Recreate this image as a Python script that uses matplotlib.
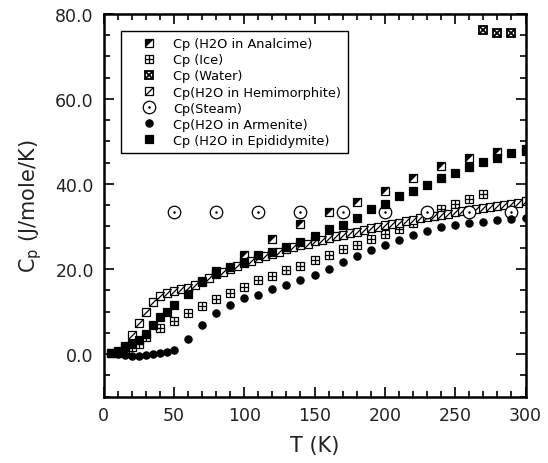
import matplotlib
matplotlib.use('Agg')
import matplotlib.pyplot as plt
from matplotlib.path import Path
from matplotlib.ticker import MultipleLocator, FormatStrFormatter

# Cp of H2O in various minerals
t_analcime = [60, 80, 100, 120, 140, 160, 180, 200, 220, 240, 260, 280, 300]
cp_analcime = [15.4, 19.6, 23.3, 27.1, 30.6, 33.3, 35.8, 38.4, 41.3, 44.2, 46.1, 47.6, 48.3]

t_ice = [10, 15, 20, 25, 30, 40, 50, 60, 70, 80, 90, 100, 110, 120, 130, 140,
         150, 160, 170, 180, 190, 200, 210, 220, 230, 240, 250, 260, 270]
cp_ice = [0.3, 0.8, 1.6, 2.4, 4.0, 6.2, 7.8, 9.6, 11.4, 12.9, 14.4, 15.8, 17.5, 18.4,
          19.8, 20.8, 22.2, 23.2, 24.6, 25.6, 27.0, 28.2, 29.4, 30.8, 32.4, 34.0,
          35.2, 36.5, 37.7]

t_water = [270, 280, 290]
cp_water = [76.2, 75.6, 75.6]

t_hemi = [5, 10, 15, 20, 25, 30, 35, 40, 45, 50, 55, 60, 65, 70, 75, 80, 85, 90, 95,
          100, 105, 110, 115, 120, 125, 130, 135, 140, 145, 150, 155, 160, 165, 170,
          175, 180, 185, 190, 195, 200, 205, 210, 215, 220, 225, 230, 235, 240, 245,
          250, 255, 260, 265, 270, 275, 280, 285, 290, 295, 300]
cp_hemi = [0.2, 0.5, 1.8, 4.5, 7.3, 10.0, 12.2, 13.6, 14.3, 14.8, 15.2, 15.6, 16.3,
           17.1, 17.9, 18.8, 19.4, 20.1, 20.7, 21.3, 21.9, 22.5, 23.0, 23.6, 24.1,
           24.6, 25.1, 25.6, 26.0, 26.5, 26.9, 27.3, 27.7, 28.1, 28.5, 28.8, 29.2,
           29.6, 29.9, 30.3, 30.6, 30.9, 31.2, 31.5, 31.9, 32.2, 32.5, 32.7, 33.0,
           33.3, 33.6, 33.8, 34.1, 34.3, 34.6, 34.8, 35.1, 35.3, 35.6, 35.9]

t_steam = [50, 80, 110, 140, 170, 200, 230, 260, 290]
cp_steam = [33.3, 33.3, 33.3, 33.3, 33.3, 33.3, 33.3, 33.3, 33.4]

t_armenite = [5, 10, 15, 20, 25, 30, 35, 40, 45, 50, 60, 70, 80, 90, 100, 110, 120,
              130, 140, 150, 160, 170, 180, 190, 200, 210, 220, 230, 240, 250, 260,
              270, 280, 290, 300]
cp_armenite = [0.2, 0.1, -0.2, -0.4, -0.5, -0.2, 0.0, 0.2, 0.4, 1.0, 3.5, 6.8, 9.7,
               11.5, 13.1, 14.0, 15.2, 16.2, 17.3, 18.6, 20.0, 21.6, 23.0, 24.5, 25.7,
               26.9, 27.9, 28.9, 29.8, 30.3, 30.8, 31.1, 31.6, 31.8, 32.0]

t_epid = [5, 10, 15, 20, 25, 30, 35, 40, 45, 50, 60, 70, 80, 90, 100, 110, 120, 130,
          140, 150, 160, 170, 180, 190, 200, 210, 220, 230, 240, 250, 260, 270, 280,
          290, 300]
cp_epid = [0.2, 0.8, 1.6, 2.4, 3.3, 4.8, 6.9, 8.6, 9.9, 11.6, 14.1, 16.9, 19.0, 20.5,
           21.6, 23.2, 24.0, 25.1, 26.4, 27.8, 29.3, 30.4, 32.0, 34.0, 35.2, 37.1,
           38.4, 39.8, 41.3, 42.6, 43.9, 45.1, 46.0, 47.2, 47.8]

# custom marker pieces
tri_ul = [(-1, 1), (1, 1), (-1, -1)]
diag = Path([(-1, -1), (1, 1)], [Path.MOVETO, Path.LINETO])

fig = plt.figure(figsize=(5.48, 4.64), dpi=100)
ax = fig.add_axes([0.189, 0.1433, 0.770, 0.8244])

ms = 6
kw = dict(ls='none', mec='black', mew=0.9)

a1, = ax.plot(t_analcime, cp_analcime, marker='s', ms=ms, mfc='white', **kw)
a2, = ax.plot(t_analcime, cp_analcime, marker=tri_ul, ms=ms, mfc='black', ls='none', mec='none')

i1, = ax.plot(t_ice, cp_ice, marker='s', ms=ms, mfc='white', **kw)
i2, = ax.plot(t_ice, cp_ice, marker='+', ms=ms, **kw)

w1, = ax.plot(t_water, cp_water, marker='s', ms=ms, mfc='white', ls='none', mec='black', mew=1.3)
w2, = ax.plot(t_water, cp_water, marker='x', ms=ms, ls='none', mec='black', mew=1.3)

h1, = ax.plot(t_hemi, cp_hemi, marker='s', ms=ms, mfc='white', **kw)
h2, = ax.plot(t_hemi, cp_hemi, marker=diag, ms=ms, **kw)

s1, = ax.plot(t_steam, cp_steam, marker='o', ms=9, mfc='white', **kw)
s2, = ax.plot(t_steam, cp_steam, marker='o', ms=1.2, mfc='black', ls='none', mec='black', mew=0.5)

ar, = ax.plot(t_armenite, cp_armenite, marker='o', ms=5.2, mfc='black', **kw)
ep, = ax.plot(t_epid, cp_epid, marker='s', ms=5.2, mfc='black', **kw)

ax.set_xlim(0, 300)
ax.set_ylim(-10, 80)
ax.xaxis.set_major_locator(MultipleLocator(50))
ax.xaxis.set_minor_locator(MultipleLocator(10))
ax.yaxis.set_major_locator(MultipleLocator(20))
ax.yaxis.set_minor_locator(MultipleLocator(5))
ax.yaxis.set_major_formatter(FormatStrFormatter('%.1f'))
ax.tick_params(which='both', direction='in', top=True, right=True, width=1.2)
ax.tick_params(which='major', length=7, labelsize=12.5, pad=7, labelcolor='#222222')
ax.tick_params(which='minor', length=4)
for sp in ax.spines.values():
    sp.set_linewidth(1.8)

ax.set_xlabel('T (K)', fontsize=15, labelpad=8, color='#222222')
ax.set_ylabel(r'C$_\mathregular{p}$ (J/mole/K)', fontsize=15, labelpad=8, color='#222222')

leg = ax.legend([(a1, a2), (i1, i2), (w1, w2), (h1, h2), (s1, s2), ar, ep],
                ['Cp (H2O in Analcime)', 'Cp (Ice)', 'Cp (Water)',
                 'Cp(H2O in Hemimorphite)', 'Cp(Steam)', 'Cp(H2O in Armenite)',
                 'Cp (H2O in Epididymite)'],
                loc='upper left', bbox_to_anchor=(0.041, 0.956), borderaxespad=0,
                prop={'size': 9.3}, numpoints=1, fancybox=False, framealpha=1,
                edgecolor='black', labelspacing=0.24, handlelength=3.4,
                handletextpad=0.15, borderpad=0.5)
leg.get_frame().set_linewidth(1.0)

plt.savefig('out.png', dpi=100)
